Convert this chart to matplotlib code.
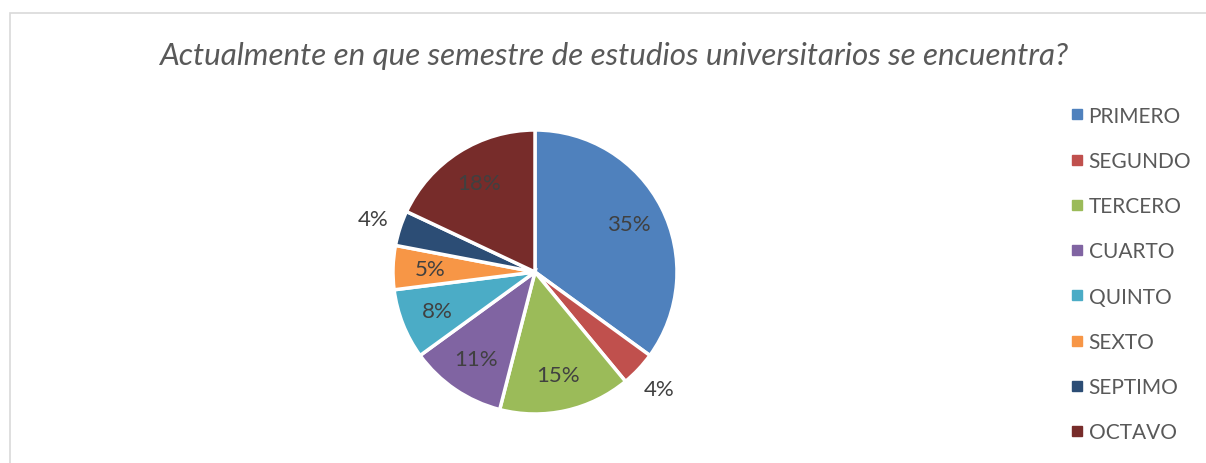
import numpy as np
import matplotlib.pyplot as plt
from matplotlib.patches import Rectangle
from matplotlib.lines import Line2D

categories = ['PRIMERO', 'SEGUNDO', 'TERCERO', 'CUARTO', 'QUINTO', 'SEXTO', 'SEPTIMO', 'OCTAVO']
values = [35, 4, 15, 11, 8, 5, 4, 18]
colors = ['#4F81BD', '#C0504D', '#9BBB59', '#8064A2', '#4BACC6', '#F79646', '#2C4D75', '#772C2A']
title = 'Actualmente en que semestre de estudios universitarios se encuentra?'

plt.rcParams['font.family'] = ['Lato', 'DejaVu Sans']

W, H = 1206, 464
fig = plt.figure(figsize=(W / 100, H / 100), dpi=100)

# chart area border (only top and left visible in the crop)
fig.patches.append(Rectangle((10 / W, -0.1), 1.2, (H - 14) / H + 0.1, transform=fig.transFigure,
                             fill=False, edgecolor='#D9D9D9', lw=1.2))

fig.text(614 / W, 1 - 56 / H, title, ha='center', va='center', fontsize=22.6,
         style='italic', color='#595959')

# pie axes: center (535, 273) px, radius 142 px
cx, cy, r = 535, H - 273, 142
ax = fig.add_axes([(cx - r) / W, (cy - r) / H, 2 * r / W, 2 * r / H])
wedges, _ = ax.pie(values, colors=colors, startangle=90, counterclock=False,
                   wedgeprops=dict(edgecolor='white', linewidth=2.5))
ax.set_xlim(-1, 1)
ax.set_ylim(-1, 1)
ax.set_aspect('equal')
ax.axis('off')

total = sum(values)
start = 90.0
for v in values:
    mid = np.deg2rad(start - v / total * 360 / 2)
    start -= v / total * 360
    dist = 1.2 if v <= 4 else 0.74
    ax.text(dist * np.cos(mid), dist * np.sin(mid), f'{v}%', ha='center', va='center',
            fontsize=16, color='#404040', clip_on=False)

handles = [Line2D([], [], marker='s', linestyle='none', markersize=7,
                  markerfacecolor=c, markeredgecolor=c) for c in colors]
fig.legend(handles, categories, loc='upper left', bbox_to_anchor=(1048 / W, 1 - 88 / H),
           frameon=False, fontsize=15, labelcolor='#595959', labelspacing=1.21,
           handletextpad=0.05, handlelength=1.0)

fig.savefig('out.png', dpi=100)
